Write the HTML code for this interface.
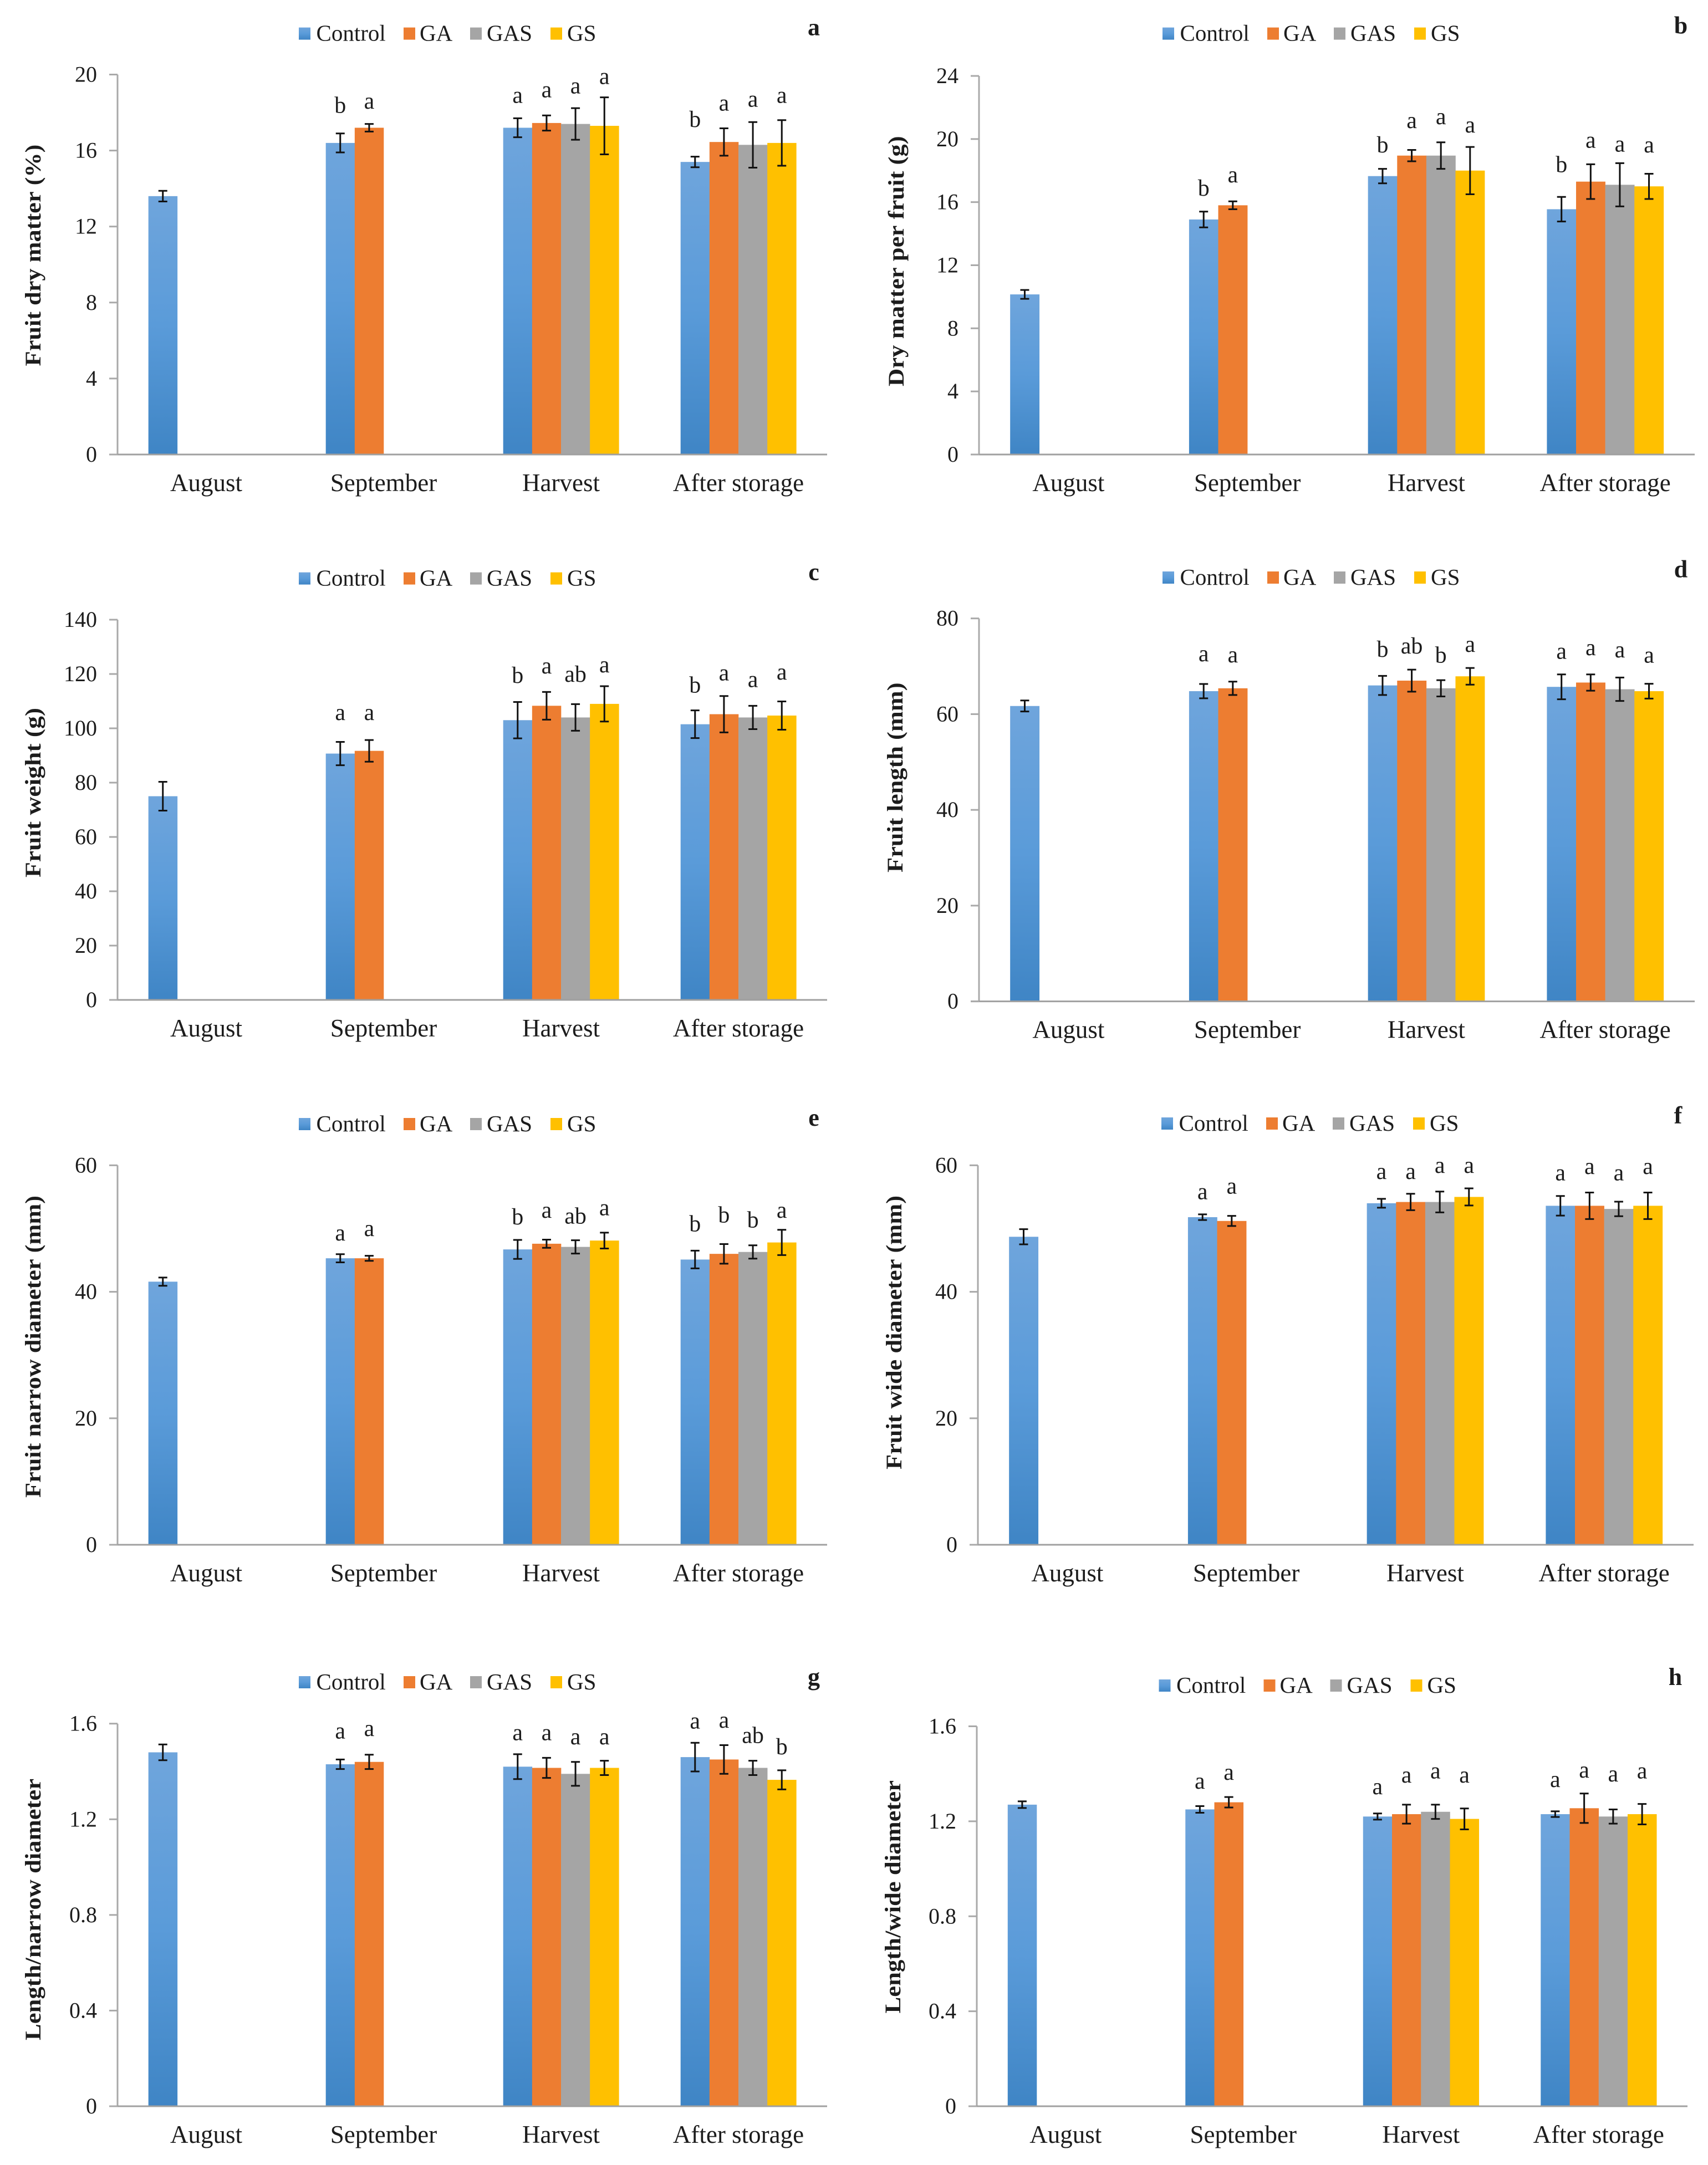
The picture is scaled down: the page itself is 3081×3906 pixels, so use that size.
<!DOCTYPE html>
<html lang="en">
<head>
<meta charset="utf-8">
<title>Fruit quality bar charts</title>
<style>
html,body{margin:0;padding:0;background:#fff;}
svg{display:block;font-family:"Liberation Serif","Times New Roman",serif;font-kerning:none;}
text{fill:#1c1c1c;}
</style>
</head>
<body>
<svg id="figure" xmlns="http://www.w3.org/2000/svg" width="3081" height="3906" viewBox="0 0 3081 3906">
<defs>
<linearGradient id="control-fill" x1="0" y1="0" x2="0" y2="1">
<stop offset="0" stop-color="#6fa5dc"/>
<stop offset="0.5" stop-color="#5a9bd9"/>
<stop offset="1" stop-color="#3f85c5"/>
</linearGradient>
</defs>
<rect width="3081" height="3906" fill="#ffffff"/>
</svg>
<script>
const categories = ["August", "September", "Harvest", "After storage"];
const seriesNames = ["Control", "GA", "GAS", "GS"];
const seriesFills = ["url(#control-fill)", "#ed7d31", "#a5a5a5", "#ffc000"];

const aTicks = [0, 4, 8, 12, 16, 20];
const aValues = [[13.6], [16.4, 17.2], [17.2, 17.45, 17.4, 17.3], [15.4, 16.45, 16.3, 16.4]];
const aErrors = [[0.28], [0.5, 0.2], [0.5, 0.4, 0.83, 1.5], [0.28, 0.72, 1.2, 1.2]];
const aLetters = [[], ["b", "a"], ["a", "a", "a", "a"], ["b", "a", "a", "a"]];
const aLetterLevels = [[], [18.4, 18.5], [18.8, 19.1, 19.3, 19.8], [17.65, 18.4, 18.6, 18.8]];

const bTicks = [0, 4, 8, 12, 16, 20, 24];
const bValues = [[10.15], [14.9, 15.8], [17.65, 18.95, 18.95, 18], [15.55, 17.3, 17.1, 17]];
const bErrors = [[0.28], [0.5, 0.25], [0.46, 0.36, 0.84, 1.5], [0.78, 1.1, 1.37, 0.8]];
const bLetters = [[], ["b", "a"], ["b", "a", "a", "a"], ["b", "a", "a", "a"]];
const bLetterLevels = [[], [16.9, 17.6], [19.65, 21.05, 21.3, 20.76], [18.4, 19.8, 19.55, 19.5]];

const cTicks = [0, 20, 40, 60, 80, 100, 120, 140];
const cValues = [[75], [90.7, 91.7], [103, 108.3, 104, 109], [101.5, 105.2, 104, 104.7]];
const cErrors = [[5.3], [4.3, 4], [6.7, 5.1, 4.9, 6.5], [5.1, 6.7, 4.3, 5.2]];
const cLetters = [[], ["a", "a"], ["b", "a", "ab", "a"], ["b", "a", "a", "a"]];
const cLetterLevels = [[], [105.1, 105.1], [119.6, 122.2, 120, 122.7], [116, 119.7, 117.2, 120]];

const dTicks = [0, 20, 40, 60, 80];
const dValues = [[61.7], [64.8, 65.4], [66, 67, 65.4, 67.9], [65.7, 66.6, 65.2, 64.8]];
const dErrors = [[1.15], [1.5, 1.4], [2, 2.3, 1.7, 1.75], [2.6, 1.7, 2.45, 1.55]];
const dLetters = [[], ["a", "a"], ["b", "ab", "b", "a"], ["a", "a", "a", "a"]];
const dLetterLevels = [[], [72.2, 72], [73.6, 74.3, 72.4, 74.2], [72.7, 73.5, 73, 71.9]];

const eTicks = [0, 20, 40, 60];
const eValues = [[41.6], [45.3, 45.3], [46.7, 47.6, 47.1, 48.1], [45.1, 46, 46.3, 47.8]];
const eErrors = [[0.65], [0.65, 0.4], [1.5, 0.65, 1.05, 1.25], [1.4, 1.55, 1.05, 2]];
const eLetters = [[], ["a", "a"], ["b", "a", "ab", "a"], ["b", "b", "b", "a"]];
const eLetterLevels = [[], [49, 49.7], [51.9, 52.6, 52, 53], [50.8, 52.2, 51.4, 52.6]];

const fTicks = [0, 20, 40, 60];
const fValues = [[48.7], [51.8, 51.2], [54, 54.2, 54.2, 55], [53.6, 53.6, 53.1, 53.6]];
const fErrors = [[1.2], [0.45, 0.8], [0.7, 1.3, 1.65, 1.35], [1.55, 2.1, 1.15, 2.1]];
const fLetters = [[], ["a", "a"], ["a", "a", "a", "a"], ["a", "a", "a", "a"]];
const fLetterLevels = [[], [55.5, 56.4], [58.7, 58.7, 59.7, 59.7], [58.5, 59.5, 58.5, 59.5]];

const gTicks = [0, 0.4, 0.8, 1.2, 1.6];
const gValues = [[1.48], [1.43, 1.44], [1.42, 1.415, 1.39, 1.415], [1.46, 1.45, 1.415, 1.365]];
const gErrors = [[0.033], [0.02, 0.03], [0.052, 0.042, 0.05, 0.03], [0.06, 0.06, 0.03, 0.04]];
const gLetters = [[], ["a", "a"], ["a", "a", "a", "a"], ["a", "a", "ab", "b"]];
const gLetterLevels = [[], [1.561, 1.572], [1.554, 1.554, 1.537, 1.537], [1.603, 1.606, 1.552, 1.504]];

const hTicks = [0, 0.4, 0.8, 1.2, 1.6];
const hValues = [[1.27], [1.25, 1.28], [1.22, 1.23, 1.24, 1.21], [1.23, 1.255, 1.22, 1.23]];
const hErrors = [[0.014], [0.014, 0.022], [0.013, 0.04, 0.03, 0.044], [0.012, 0.062, 0.03, 0.043]];
const hLetters = [[], ["a", "a"], ["a", "a", "a", "a"], ["a", "a", "a", "a"]];
const hLetterLevels = [[], [1.361, 1.398], [1.337, 1.387, 1.404, 1.387], [1.368, 1.408, 1.391, 1.404]];

const panelList = [
  {id:"a", title:"Fruit dry matter (%)", ticks:aTicks, values:aValues, errors:aErrors, letters:aLetters, levels:aLetterLevels,
   box:[212,1492,134.5,820], legend:[539,60.6], tag:[1468,51.5], titleBox:[73,260.6,660.5]},
  {id:"b", title:"Dry matter per fruit (g)", ticks:bTicks, values:bValues, errors:bErrors, letters:bLetters, levels:bLetterLevels,
   box:[1766,3057,137,820], legend:[2097,60.6], tag:[3032,48.5], titleBox:[1630,245.4,697]},
  {id:"c", title:"Fruit weight (g)", ticks:cTicks, values:cValues, errors:cErrors, letters:cLetters, levels:cLetterLevels,
   box:[212,1492,1118,1804], legend:[539,1043.6], tag:[1468,1034.5], titleBox:[73,1277,1583]},
  {id:"d", title:"Fruit length (mm)", ticks:dTicks, values:dValues, errors:dErrors, letters:dLetters, levels:dLetterLevels,
   box:[1766,3057,1115.7,1806.6], legend:[2097,1042], tag:[3032,1029.7], titleBox:[1628,1231.5,1574]},
  {id:"e", title:"Fruit narrow diameter (mm)", ticks:eTicks, values:eValues, errors:eErrors, letters:eLetters, levels:eLetterLevels,
   box:[212,1492,2102.4,2787], legend:[539,2028], tag:[1468,2019], titleBox:[73,2157,2702]},
  {id:"f", title:"Fruit wide diameter (mm)", ticks:fTicks, values:fValues, errors:fErrors, letters:fLetters, levels:fLetterLevels,
   box:[1764,3055,2102.4,2787], legend:[2095,2027], tag:[3027,2014.5], titleBox:[1626,2157,2651]},
  {id:"g", title:"Length/narrow diameter", ticks:gTicks, values:gValues, errors:gErrors, letters:gLetters, levels:gLetterLevels,
   box:[212,1492,3109.7,3800], legend:[539,3035], tag:[1468,3028], titleBox:[73,3209,3681]},
  {id:"h", title:"Length/wide diameter", ticks:hTicks, values:hValues, errors:hErrors, letters:hLetters, levels:hLetterLevels,
   box:[1762,3044,3114.5,3800], legend:[2090.5,3041], tag:[3022,3028], titleBox:[1624,3212,3632.5]}
];

const svgNS = "http://www.w3.org/2000/svg";
const root = document.getElementById("figure");

function make(parent, tag, attrs, content) {
  const el = document.createElementNS(svgNS, tag);
  Object.keys(attrs).forEach(function (k) { el.setAttribute(k, attrs[k]); });
  if (content !== undefined) el.textContent = content;
  parent.appendChild(el);
  return el;
}

function drawPanel(p) {
  const x0 = p.box[0], x1 = p.box[1], yTop = p.box[2], yBase = p.box[3];
  const maxTick = p.ticks[p.ticks.length - 1];
  const yScale = function (v) { return yBase - (v / maxTick) * (yBase - yTop); };
  const catW = (x1 - x0) / categories.length;
  const barW = catW * 0.163;
  const catCenter = function (i) { return x0 + catW * (i + 0.5); };
  const barLeft = function (i, s) { return catCenter(i) - 2 * barW + s * barW; };

  const group = make(root, "g", {});
  
  

  p.values.forEach(function (row, i) {
    row.forEach(function (v, s) {
      const bar = make(group, "rect", {x: barLeft(i, s), y: yScale(v), width: barW + 0.3, height: yBase - yScale(v), fill: seriesFills[s]});
      
      
    });
  });

  const yAxis = make(group, "line", {x1: x0, x2: x0, y1: yTop, y2: yBase, stroke: "#a9a9a9", "stroke-width": 3});
  
  

  const xAxis = make(group, "line", {x1: x0 - 15, x2: x1, y1: yBase, y2: yBase, stroke: "#a0a0a0", "stroke-width": 3});
  
  

  p.ticks.forEach(function (t) {
    const y = yScale(t);
    const tick = make(group, "line", {x1: x0 - 15, x2: x0, y1: y, y2: y, stroke: "#a9a9a9", "stroke-width": 3});
    
    
    const label = make(group, "text", {x: x0 - 37, y: y + 13, "text-anchor": "end", "font-size": 40}, String(t));
    
    
  });

  categories.forEach(function (c, i) {
    const label = make(group, "text", {x: catCenter(i), y: yBase + 66, "text-anchor": "middle", "font-size": 45}, c);
    
    
  });

  p.values.forEach(function (row, i) {
    row.forEach(function (v, s) {
      const cx = barLeft(i, s) + barW / 2;
      const hi = yScale(v + p.errors[i][s]);
      const lo = yScale(v - p.errors[i][s]);
      const err = make(group, "path", {d: "M" + (cx - 8) + " " + hi + "H" + (cx + 8) + "M" + cx + " " + hi + "V" + lo + "M" + (cx - 8) + " " + lo + "H" + (cx + 8), stroke: "#111", "stroke-width": 3, fill: "none"});
      
      
    });
  });

  p.letters.forEach(function (row, i) {
    row.forEach(function (letter, s) {
      const mid = yScale(p.levels[i][s]);
      const off = letter === "a" ? 10 : 14;
      const mark = make(group, "text", {x: barLeft(i, s) + barW / 2, y: mid + off, "text-anchor": "middle", "font-size": 42}, letter);
      
      
    });
  });

  const tb = p.titleBox;
  const title = make(group, "text", {x: tb[0], y: tb[2], "font-size": 40, "font-weight": "bold", textLength: tb[2] - tb[1], lengthAdjust: "spacingAndGlyphs", transform: "rotate(-90 " + tb[0] + " " + tb[2] + ")"}, p.title);
  
  

  const tagText = make(group, "text", {x: p.tag[0], y: p.tag[1] + 12, "text-anchor": "middle", "font-size": 44, "font-weight": "bold"}, p.id);
  
  

  const swatchOffsets = [0, 189, 309, 454];
  const textOffsets = [31.5, 218, 339, 484];
  seriesNames.forEach(function (name, s) {
    const lx = p.legend[0], ly = p.legend[1];
    const swatch = make(group, "rect", {x: lx + swatchOffsets[s], y: ly - 11, width: 21, height: 22, fill: seriesFills[s]});
    
    
    const entry = make(group, "text", {x: lx + textOffsets[s], y: ly + 13, "font-size": 41}, name);
    
    
  });
}

panelList.forEach(drawPanel);
</script>
</body>
</html>
